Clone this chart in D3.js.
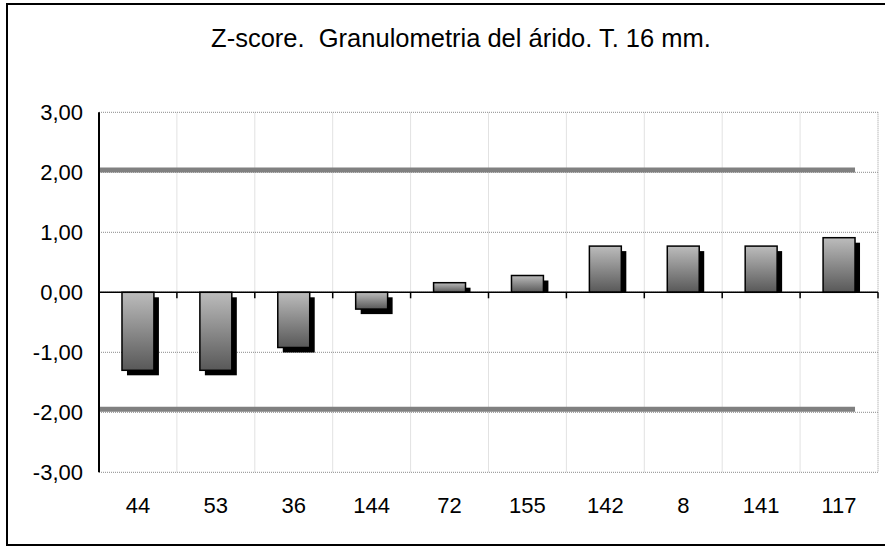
<!DOCTYPE html>
<html>
<head>
<meta charset="utf-8">
<script src="https://cdn.jsdelivr.net/npm/d3@7"></script>
<style>
  body { margin: 0; background: #fff; }
  text { font-family: 'Liberation Sans', Arial, sans-serif; fill: #000; }
</style>
</head>
<body>
<svg id="chart" width="885" height="547"></svg>
<script>
// data
const categories = ['44', '53', '36', '144', '72', '155', '142', '8', '141', '117']
const zScores = [-1.30, -1.30, -0.92, -0.28, 0.16, 0.28, 0.77, 0.77, 0.77, 0.91]
const limitValues = [2.04, -1.95]
const yTicks = [-3, -2, -1, 0, 1, 2, 3]
const title = 'Z-score.  Granulometria del árido. T. 16 mm.'

const svg = d3.select('#chart')

const margin = { top: 112.3, right: 7, bottom: 74.7, left: 99 }
const width = 885 - margin.left - margin.right
const height = 547 - margin.top - margin.bottom

// outer frame (right side runs off the picture)
svg.append('rect')
  .attr('x', 7).attr('y', 4)
  .attr('width', 900).attr('height', 541)
  .attr('fill', '#fff')
  .attr('stroke', '#000')
  .attr('stroke-width', 2)

svg.append('text')
  .attr('x', 461)
  .attr('y', 47)
  .attr('text-anchor', 'middle')
  .attr('font-size', '25.5px')
  .style('white-space', 'pre')
  .text(title)

const defs = svg.append('defs')
const grad = defs.append('linearGradient')
  .attr('id', 'barGrad')
  .attr('x1', 0).attr('y1', 0).attr('x2', 0).attr('y2', 1)
grad.append('stop').attr('offset', '0%').attr('stop-color', '#bcbcbc')
grad.append('stop').attr('offset', '100%').attr('stop-color', '#585858')

const x = d3.scaleBand().domain(categories).range([0, width])
const y = d3.scaleLinear().domain([-3, 3]).range([height, 0])

const g = svg.append('g').attr('transform', `translate(${margin.left},${margin.top})`)

// vertical grid at category boundaries
g.selectAll('.vgrid')
  .data(categories.slice(1))
  .enter()
  .append('line')
  .attr('x1', d => x(d)).attr('x2', d => x(d))
  .attr('y1', 0).attr('y2', height)
  .attr('stroke', '#e2e2e2')
  .attr('stroke-width', 1)

// horizontal grid
g.selectAll('.hgrid')
  .data(yTicks)
  .enter()
  .append('line')
  .attr('x1', 0).attr('x2', width)
  .attr('y1', d => y(d)).attr('y2', d => y(d))
  .attr('stroke', '#8a8a8a')
  .attr('stroke-width', 1)
  .attr('stroke-dasharray', '1,1')

g.append('line')
  .attr('x1', width).attr('x2', width)
  .attr('y1', 0).attr('y2', height)
  .attr('stroke', '#9a9a9a')
  .attr('stroke-dasharray', '1,1')

const barW = x.bandwidth() * 0.41
const barX = d => x(d) + (x.bandwidth() - barW) / 2
const off = 5

const bars = categories.map((c, i) => ({ name: c, value: zScores[i] }))

// shadows
g.selectAll('.shadow')
  .data(bars)
  .enter()
  .append('rect')
  .attr('x', d => barX(d.name) + off)
  .attr('y', d => (d.value >= 0 ? y(d.value) + off : y(0) + off))
  .attr('width', barW)
  .attr('height', d => (d.value >= 0 ? Math.max(0, y(0) - y(d.value) - off) : y(d.value) - y(0)))
  .attr('fill', '#000')

g.selectAll('.bar')
  .data(bars)
  .enter()
  .append('rect')
  .attr('x', d => barX(d.name))
  .attr('y', d => y(Math.max(0, d.value)))
  .attr('width', barW)
  .attr('height', d => Math.abs(y(d.value) - y(0)))
  .attr('fill', 'url(#barGrad)')
  .attr('stroke', '#000')
  .attr('stroke-width', 1.5)

// limit lines
const lastCat = categories[categories.length - 1]
g.selectAll('.limit')
  .data(limitValues)
  .enter()
  .append('line')
  .attr('x1', 0)
  .attr('x2', barX(lastCat) + barW)
  .attr('y1', d => y(d)).attr('y2', d => y(d))
  .attr('stroke', '#808080')
  .attr('stroke-width', 5)

// zero axis with ticks downward
g.append('line')
  .attr('x1', 0).attr('x2', width)
  .attr('y1', y(0)).attr('y2', y(0))
  .attr('stroke', '#000')
  .attr('stroke-width', 1.5)

g.selectAll('.xtick')
  .data(categories.slice(1).concat(['end']))
  .enter()
  .append('line')
  .attr('x1', d => (d === 'end' ? width : x(d)))
  .attr('x2', d => (d === 'end' ? width : x(d)))
  .attr('y1', y(0)).attr('y2', y(0) + 6)
  .attr('stroke', '#000')
  .attr('stroke-width', 1.5)

// y axis
g.append('line')
  .attr('x1', 0).attr('x2', 0)
  .attr('y1', 0).attr('y2', height)
  .attr('stroke', '#000')
  .attr('stroke-width', 2)

const locale = d3.formatLocale({ decimal: ',', thousands: '.', grouping: [3], currency: ['', ''], minus: '-' })
const fmt = locale.format('.2f')
g.selectAll('.ylab')
  .data(yTicks)
  .enter()
  .append('text')
  .attr('x', -16)
  .attr('y', d => y(d))
  .attr('dy', '0.36em')
  .attr('text-anchor', 'end')
  .attr('font-size', '22px')
  .text(d => fmt(d))

g.selectAll('.xlab')
  .data(categories)
  .enter()
  .append('text')
  .attr('x', d => x(d) + x.bandwidth() / 2)
  .attr('y', height + 41)
  .attr('text-anchor', 'middle')
  .attr('font-size', '22px')
  .text(d => d)
</script>
</body>
</html>
